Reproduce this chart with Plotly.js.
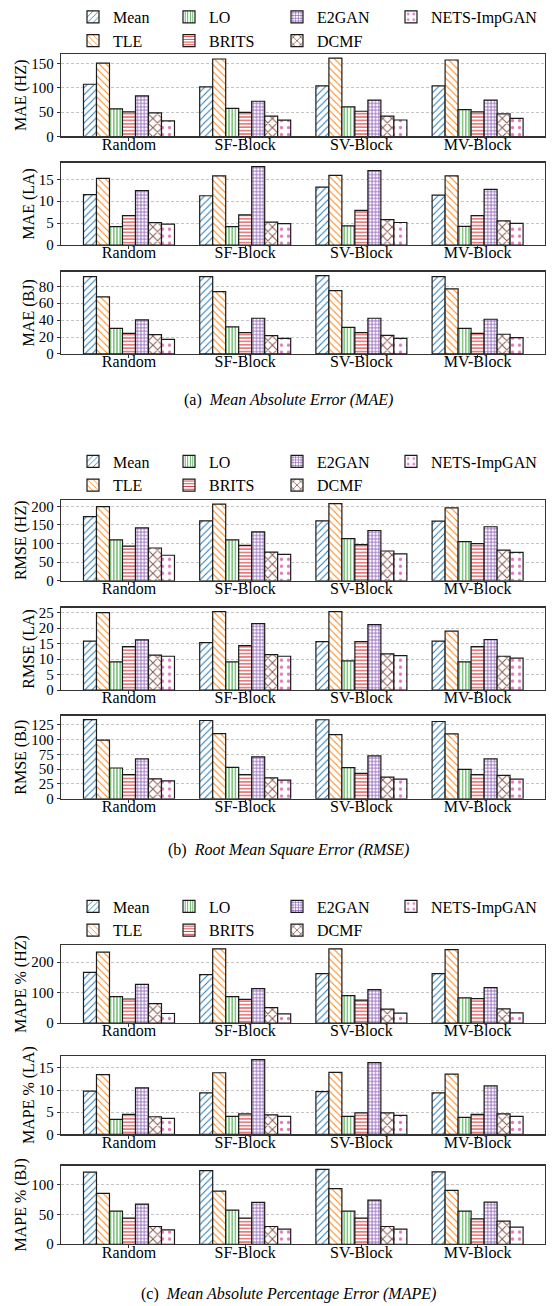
<!DOCTYPE html>
<html><head><meta charset="utf-8">
<script src="https://cdn.plot.ly/plotly-3.0.1.min.js"></script>
<style>html,body{margin:0;padding:0;background:#fff}</style>
</head><body><div id="chart" style="width:552px;height:1306px"></div>
<script>
const categories = ['Random', 'SF-Block', 'SV-Block', 'MV-Block'];
const methods = ['Mean', 'TLE', 'LO', 'BRITS', 'E2GAN', 'DCMF', 'NETS-ImpGAN'];

// rows follow `methods`, columns follow `categories`
const maeHZ = [
  [107.5, 102, 104, 104],
  [151, 159.5, 161.5, 157.5],
  [57, 58, 61, 55.5],
  [50.5, 49.5, 52, 50.5],
  [83.5, 72.5, 75, 75],
  [48.5, 42, 42, 46.5],
  [32, 33.5, 34, 37.5]
];
const maeLA = [
  [11.5, 11.25, 13.2, 11.4],
  [15.2, 15.8, 15.9, 15.8],
  [4.2, 4.2, 4.4, 4.25],
  [6.7, 6.9, 7.9, 6.7],
  [12.4, 17.9, 17.0, 12.7],
  [5.1, 5.25, 5.8, 5.5],
  [4.8, 4.9, 5.15, 4.95]
];
const maeBJ = [
  [91.4, 91.4, 92.6, 91.4],
  [67.4, 73.7, 74.9, 76.8],
  [30.3, 31.9, 31.5, 30.3],
  [24.4, 25.2, 25.2, 24.4],
  [40.2, 42.2, 42.2, 41],
  [22.9, 21.7, 22, 23.3],
  [17.3, 18.5, 18.5, 19.3]
];
const rmseHZ = [
  [172, 161, 161, 160],
  [199, 206, 207, 195.5],
  [110, 110, 113, 105],
  [93, 95, 97, 100],
  [142, 131.5, 135, 145],
  [88, 77, 80, 82.5],
  [68.5, 71, 72, 76]
];
const rmseLA = [
  [15.8, 15.3, 15.6, 15.8],
  [25.0, 25.3, 25.3, 19.0],
  [9.1, 9.1, 9.4, 9.1],
  [14.0, 14.3, 15.6, 14.0],
  [16.2, 21.4, 21.1, 16.3],
  [11.25, 11.4, 11.7, 10.9],
  [10.9, 10.9, 11.1, 10.3]
];
const rmseBJ = [
  [134, 132.4, 133.6, 130.7],
  [99.3, 110, 108.4, 109.6],
  [52, 53, 52.5, 49.7],
  [41, 41, 42.8, 41],
  [67.4, 70.8, 72.5, 67.4],
  [33.7, 35.4, 36.5, 39.4],
  [30.3, 31.4, 33.1, 33.1]
];
const mapeHZ = [
  [166, 158.7, 162, 162],
  [232.6, 243.5, 243.5, 241],
  [87, 87, 90, 82.6],
  [79, 78, 75, 80],
  [127, 113, 110, 116],
  [64, 51, 45.6, 46.7],
  [31.5, 30.4, 32.6, 33.7]
];
const mapeLA = [
  [9.74, 9.36, 9.66, 9.36],
  [13.5, 13.9, 14.0, 13.6],
  [3.37, 4.04, 4.04, 3.82],
  [4.5, 4.64, 4.87, 4.5],
  [10.5, 16.85, 16.2, 10.94],
  [3.97, 4.4, 4.87, 4.64],
  [3.6, 4.04, 4.27, 4.04]
];
const mapeBJ = [
  [121, 123.6, 125.8, 121.3],
  [85.4, 89.3, 93.3, 90.4],
  [55.6, 57.3, 55.6, 55.6],
  [43.8, 43.8, 43.8, 42.7],
  [67.4, 70.2, 74.2, 70.8],
  [29.8, 29.8, 29.8, 38.8],
  [24.2, 25.3, 25.3, 28.7]
];

const yTitles = ['MAE (HZ)', 'MAE (LA)', 'MAE (BJ)', 'RMSE (HZ)', 'RMSE (LA)', 'RMSE (BJ)', 'MAPE % (HZ)', 'MAPE % (LA)', 'MAPE % (BJ)'];
const captions = ['(a)', '(b)', '(c)'];
const captionTexts = ['Mean Absolute Error (MAE)', 'Root Mean Square Error (RMSE)', 'Mean Absolute Percentage Error (MAPE)'];

// ---- styles ----
const colors = ['#1f77b4', '#ff7f0e', '#2ca02c', '#d62728', '#9467bd', '#8c564b', '#e377c2'];
const hatch = ['/', '\\', '|', '-', '+', 'x', '.'];
const hatchSize = [5, 5, 3.2, 3.4, 3.4, 6.5, 7];
const hatchSolid = [0.2, 0.2, 0.3, 0.3, 0.45, 0.28, 0.17];

const panels = [maeHZ, maeLA, maeBJ, rmseHZ, rmseLA, rmseBJ, mapeHZ, mapeLA, mapeBJ];
const dticks = [50, 5, 20, 50, 5, 25, 100, 5, 50];
const panelTop = [49.3, 158.3, 267.7, 496.7, 605, 713.3, 943.7, 1055, 1165];
const panelBot = [132, 241, 350.3, 578, 687.7, 796.8, 1022, 1133.7, 1244];
const legendRow1 = [11.4, 458, 904.8];
const legendTextX = [113, 209, 317, 431];
const captionY = [396.7, 848.3, 1294];
const captionX = 288;

const W = 552, H = 1306, ML = 61, MR = 7;
const PW = W - ML - MR;
const py = v => 1 - v / H;
const px = v => (v - ML) / PW;
const FONT = '"Liberation Serif", serif';

const traces = [];
const layout = {
  width: W, height: H,
  margin: {l: ML, r: MR, t: 0, b: 0, pad: 0},
  paper_bgcolor: '#fff', plot_bgcolor: '#fff',
  font: {family: FONT, size: 16, color: '#000'},
  barmode: 'group', bargap: 0.217, bargroupgap: 0,
  annotations: []
};

panels.forEach((data, p) => {
  const k = p + 1;
  const sec = Math.floor(p / 3);
  const xa = 'x' + (k === 1 ? '' : k), ya = 'y' + (k === 1 ? '' : k);
  let maxV = 0;
  data.forEach(row => row.forEach(v => { if (v > maxV) maxV = v; }));
  methods.forEach((name, m) => {
    const col = Math.floor(m / 2);
    const ln = sec * 4 + col + 1;
    traces.push({
      type: 'bar', x: categories, y: data[m], name: name,
      xaxis: xa, yaxis: ya,
      legend: ln === 1 ? 'legend' : 'legend' + ln,
      showlegend: p % 3 === 0,
      hoverinfo: 'skip',
      marker: {
        color: '#fff',
        line: {color: '#1a1a1a', width: 1.2},
        pattern: {shape: hatch[m], fgcolor: colors[m], bgcolor: '#fff', size: hatchSize[m], solidity: hatchSolid[m], fillmode: 'replace'}
      }
    });
  });
  const axKeyX = 'xaxis' + (k === 1 ? '' : k), axKeyY = 'yaxis' + (k === 1 ? '' : k);
  layout[axKeyX] = {
    domain: [0, 1], anchor: ya, type: 'category', range: [-0.585, 3.58],
    showline: true, mirror: true, linecolor: '#333', linewidth: 1.2,
    ticks: 'outside', ticklen: 3, tickcolor: '#333', tickwidth: 1,
    ticklabelstandoff: -10,
    showgrid: false, zeroline: false, fixedrange: true,
    tickfont: {family: FONT, size: 16, color: '#000'}
  };
  layout[axKeyY] = {
    domain: [py(panelBot[p]), py(panelTop[p])], anchor: xa,
    range: [0, maxV * 1.05], dtick: dticks[p], tick0: 0,
    showline: true, mirror: true, linecolor: '#333', linewidth: 1.2,
    ticks: 'outside', ticklen: 3, tickcolor: '#333', tickwidth: 1,
    showgrid: true, gridcolor: '#b5b5b5', gridwidth: 0.8, griddash: '3px,2px',
    zeroline: false, fixedrange: true,
    tickfont: {family: FONT, size: 15, color: '#000'},
    title: {text: yTitles[p], font: {family: FONT, size: 16, color: '#000'}, standoff: 0}
  };
});

for (let s = 0; s < 3; s++) {
  for (let c = 0; c < 4; c++) {
    const ln = s * 4 + c + 1;
    layout[ln === 1 ? 'legend' : 'legend' + ln] = {
      x: px(legendTextX[c] - 40), xanchor: 'left',
      y: py(legendRow1[s] - 16.9), yanchor: 'top',
      orientation: 'v', bgcolor: 'rgba(0,0,0,0)', borderwidth: 0,
      tracegroupgap: 0, traceorder: 'normal',
      font: {family: FONT, size: 16, color: '#000'}
    };
  }
  layout.annotations.push({
    xref: 'paper', yref: 'paper', x: px(captionX), y: py(captionY[s]),
    xanchor: 'center', yanchor: 'middle', showarrow: false,
    text: captions[s] + '&nbsp;&nbsp;<i>' + captionTexts[s] + '</i>',
    font: {family: FONT, size: 16, color: '#000'}
  });
}

Plotly.newPlot('chart', traces, layout, {displayModeBar: false, staticPlot: true});
</script>
</body></html>
